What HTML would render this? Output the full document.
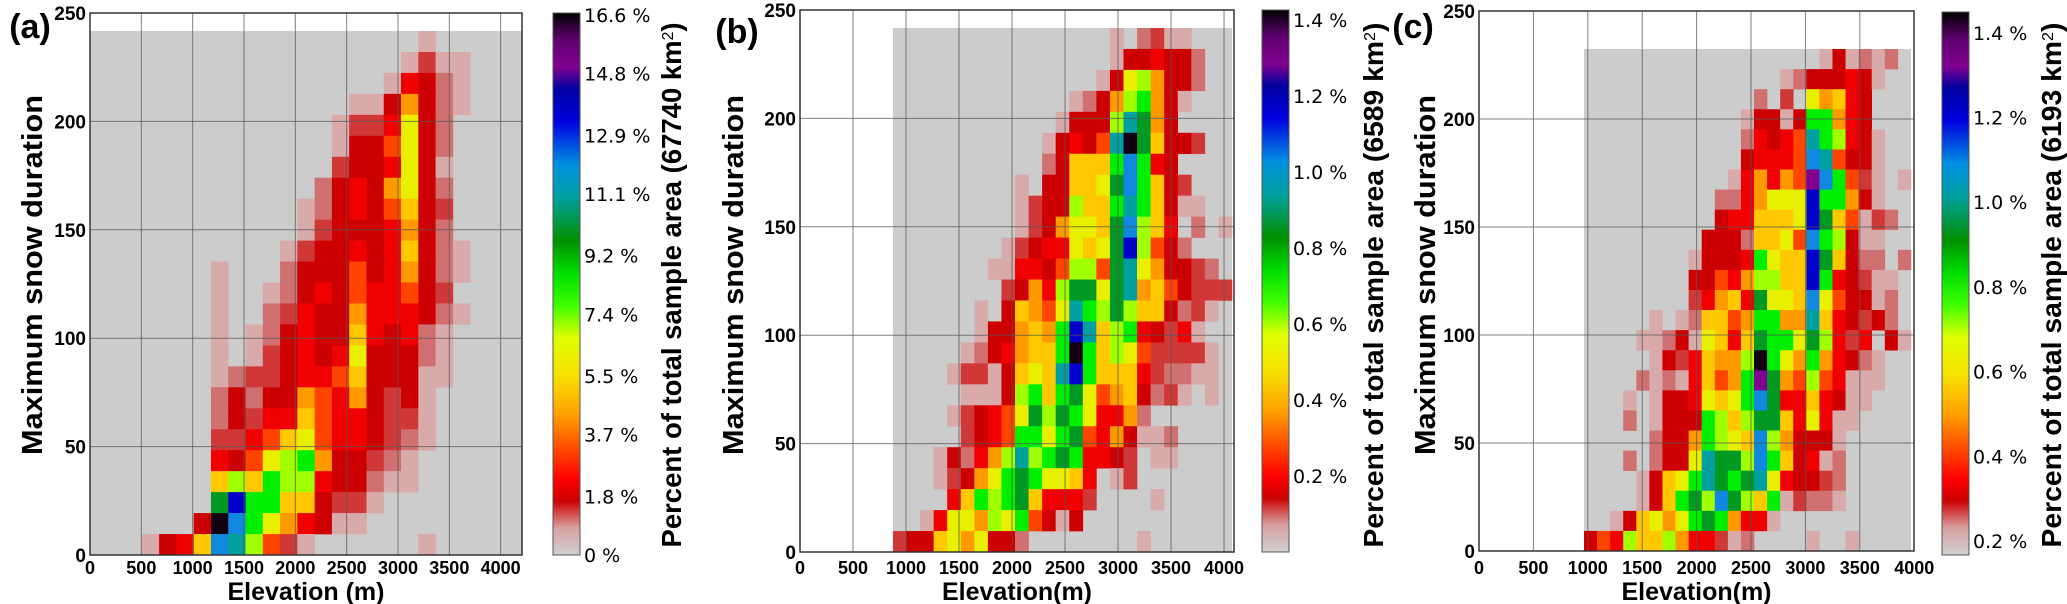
<!DOCTYPE html>
<html><head><meta charset="utf-8"><title>Snow duration vs elevation</title>
<style>html,body{margin:0;padding:0;background:#fff;}svg{display:block;}</style></head>
<body>
<svg id="fig" width="2067" height="604" viewBox="0 0 2067 604" xmlns="http://www.w3.org/2000/svg">
<defs>
<linearGradient id="cmap" x1="0" y1="1" x2="0" y2="0">
<stop offset="0" stop-color="#d0d0d0"/><stop offset="0.05" stop-color="#d8a0a0"/><stop offset="0.1" stop-color="#cc0000"/>
<stop offset="0.14" stop-color="#ff0000"/><stop offset="0.2" stop-color="#ff5000"/><stop offset="0.26" stop-color="#ffa000"/>
<stop offset="0.33" stop-color="#f8e000"/><stop offset="0.4" stop-color="#e0ff00"/><stop offset="0.46" stop-color="#40ff00"/>
<stop offset="0.52" stop-color="#00dd00"/><stop offset="0.58" stop-color="#009000"/><stop offset="0.66" stop-color="#00a0a0"/>
<stop offset="0.72" stop-color="#0090e0"/><stop offset="0.8" stop-color="#0000e0"/><stop offset="0.86" stop-color="#0000a0"/>
<stop offset="0.9" stop-color="#800090"/><stop offset="0.95" stop-color="#600070"/><stop offset="1" stop-color="#000000"/>
</linearGradient>
</defs>
</svg>
<script>
// ---- data: intensity level per cell, rows listed top (highest duration bin) to bottom ----
const startA = [19,18,17,15,14,14,14,13,12,12,11,7,7,7,7,7,7,7,7,7,7,7,7,6,3];
const valsA = [
[1],[1,3,1,1],[1,5,4,2,1],[1,1,4,7,4,2,1],[1,3,3,5,9,4,2],[1,4,4,6,9,4,2],[3,4,4,5,9,4,1],
[2,4,5,4,7,9,4,2],[1,2,4,5,4,6,8,4,3],[1,3,4,4,4,5,7,4,2],[1,3,4,4,5,4,5,8,4,2,1],
[1,0,0,0,2,4,4,4,6,4,5,7,4,2,1],[1,0,0,1,2,4,5,4,6,5,5,6,4,3],[1,0,0,2,3,5,4,4,7,5,5,5,4,2,1],
[1,0,1,2,4,5,4,4,8,5,4,5,2,1],[1,0,1,3,4,5,4,5,9,4,4,4,2,1],[1,2,3,3,4,5,5,6,8,4,4,4,1,1],
[2,4,2,4,4,7,6,5,7,4,3,4,1],[2,4,3,5,5,8,6,5,5,4,3,3,1],[3,3,5,6,8,9,6,5,5,4,3,2,1],
[5,4,6,9,10,11,7,4,4,3,2,1],[8,10,8,11,10,10,5,4,4,2,1,1],[12,15,11,11,8,8,4,3,3,1],
[4,17,14,11,9,7,5,4,1,1],[1,4,5,8,14,13,10,6,3,1,0,0,0,0,0,0,1]];
const startB = [16,16,15,13,12,11,11,9,9,9,8,7,8,6,6,5,4,5,4,5,3,3,4,2,0];
const valsB = [
[1,0,2,3,1,1],[1,4,4,5,4,4,2],[1,4,9,10,7,4,4,2],[1,2,4,7,10,11,7,4,1],[1,4,4,4,10,13,12,7,4],
[1,4,5,4,6,13,17,12,8,4,4,3],[2,4,8,8,8,11,14,11,5,4],[1,0,4,4,8,8,9,12,14,11,8,4,3],
[1,3,4,4,10,8,8,11,13,11,8,4,1,1],[1,3,4,7,9,9,8,12,14,10,8,5,0,2,0,1],[1,3,4,5,5,9,8,9,12,15,10,6,4,2],
[1,1,5,5,4,6,10,10,6,12,13,9,7,4,4,3,2],[3,4,7,5,10,12,12,9,12,13,7,8,6,4,3,3,3],
[1,0,4,8,7,6,9,13,11,10,12,10,8,8,4,2,3,1],[1,4,4,7,8,7,11,15,13,8,10,11,5,4,3,5,1],
[1,2,4,5,7,8,8,11,17,11,8,10,9,6,3,3,3,3,1],[1,3,3,1,4,8,9,8,13,15,11,8,8,8,5,3,2,2,1,1],
[1,1,1,4,10,11,8,11,12,9,6,7,8,4,2,3,1,0,1],[1,3,4,5,6,9,12,10,12,11,9,5,5,7,2],
[3,4,5,6,11,11,9,11,12,6,5,7,4,1,1,2],[1,4,2,5,7,10,13,10,11,12,11,5,5,4,3,0,1,1],
[1,3,4,7,9,11,12,11,9,9,8,5,0,1,3],[5,8,11,10,11,12,8,5,5,5,3,0,0,0,0,1],
[1,5,9,9,7,10,9,11,6,4,1,4],[3,4,4,8,9,7,9,4,4,2,0,0,0,0,0,0,0,0,1]];
const startC = [18,15,13,12,12,12,11,10,10,9,8,8,8,5,4,5,4,3,3,5,3,4,4,2,0];
const valsC = [
[1,4,1,2,1,2],[1,2,4,4,4,5,4,1],[2,0,3,0,9,7,8,5,4],[1,4,4,1,4,11,11,7,5,4],[2,5,4,5,6,13,11,10,5,4,1],
[4,5,5,5,6,14,13,6,4,4,1],[1,5,7,5,7,6,16,14,11,6,3,1,0,1],[2,2,5,7,9,9,9,15,11,11,7,4,1],
[4,5,5,8,8,8,9,15,12,8,6,1,3,2],[4,4,4,2,8,8,9,6,14,11,10,4,1,1],[1,4,4,4,5,11,9,8,8,15,12,8,4,2,2,0,2],
[4,4,6,5,7,10,10,8,8,15,11,5,4,3,1,1],[3,5,7,8,5,12,9,9,8,14,9,6,4,4,1,2],
[1,0,1,2,8,8,6,7,11,11,7,7,13,8,5,4,3,4,2],[1,1,2,4,1,9,8,5,8,12,11,11,9,12,10,5,3,5,0,4,1],
[1,4,3,5,8,7,7,10,17,11,9,7,11,7,5,4,2,1],[2,1,2,1,5,8,6,7,11,16,12,7,6,10,6,5,1,1,1],
[1,0,1,4,4,5,9,8,9,11,14,12,5,5,8,5,4,1,1],[2,0,1,4,4,4,11,10,8,10,12,12,8,5,9,5,1,1],
[2,4,4,7,11,10,9,8,14,10,7,4,4,4,1],[2,0,2,4,4,9,13,12,12,10,14,11,8,4,5,1,2],
[1,4,8,9,11,13,12,11,12,13,9,5,4,4,3,2],[1,4,8,11,12,10,14,12,10,8,11,1,3,2,2,1],
[1,4,8,9,7,9,11,12,11,7,5,5,1],[4,6,5,10,8,8,10,7,5,5,3,1,2,0,0,0,0,1,0,0,1]];
const xTicks = [0,500,1000,1500,2000,2500,3000,3500,4000];
const yTicks = [0,50,100,150,200,250];
const cbTicksA = [0,1.8,3.7,5.5,7.4,9.2,11.1,12.9,14.8,16.6];
const cbTicksB = [0.2,0.4,0.6,0.8,1.0,1.2,1.4];
const cbTicksC = [0.2,0.4,0.6,0.8,1.0,1.2,1.4];

const levelColors = ['none','#d8aaaa','#d07070','#d03838','#cc0000','#f00000','#ff4400','#ff9900','#ffc800','#e8f000','#a0ff00','#00ee00','#009922','#00a0a0','#1088e0','#0000c8','#800090','#120012'];
const NS='http://www.w3.org/2000/svg';
const svg=document.getElementById('fig');
function mk(tag,attrs,parent){const e=document.createElementNS(NS,tag);for(const k in attrs)e.setAttribute(k,attrs[k]);(parent||svg).appendChild(e);return e;}

const panels=[
 {id:'a',L:90,R:522,T:13,B:555,xmax:4208,gx0:0,gx1:4208,gy1:241.7,starts:startA,vals:valsA,
  cb:{x:553,T:13,B:555,vmin:0,vmax:16.66,ticks:cbTicksA,fmt:v=>v+' %'},cbTitle:'Percent of total sample area (67740 km',cbTx:670,
  ytx:32,xtitle:'Elevation (m)',lab:'(a)',labx:30,laby:38},
 {id:'b',L:800,R:1234,T:10,B:552,xmax:4094,gx0:877,gx1:4075,gy1:241.7,starts:startB,vals:valsB,
  cb:{x:1262,T:10,B:552,vmin:0,vmax:1.426,ticks:cbTicksB,fmt:v=>v.toFixed(1)+' %'},cbTitle:'Percent of total sample area  (6589 km',cbTx:1372,
  ytx:733,xtitle:'Elevation(m)',lab:'(b)',labx:737,laby:43},
 {id:'c',L:1479,R:1914,T:11,B:551,xmax:3998,gx0:965,gx1:3970,gy1:232.4,starts:startC,vals:valsC,
  cb:{x:1942,T:12,B:555,vmin:0.167,vmax:1.449,ticks:cbTicksC,fmt:v=>v.toFixed(1)+' %'},cbTitle:'Percent of total sample area  (6193 km',cbTx:2050,
  ytx:1425,xtitle:'Elevation(m)',lab:'(c)',labx:1413,laby:38}
];

panels.forEach(p=>{
  const g=mk('g',{});
  
  
  const xs=v=>p.L+(v/p.xmax)*(p.R-p.L);
  const ys=v=>p.B-(v/250)*(p.B-p.T);
  const bg=mk('rect',{x:xs(p.gx0),y:ys(p.gy1),width:xs(p.gx1)-xs(p.gx0),height:ys(0)-ys(p.gy1),fill:'#cccccc'},g);
  
  
  const nr=p.vals.length, nc=25;
  const cw=(p.gx1-p.gx0)/nc, rh=p.gy1/nr;
  p.vals.forEach((row,i)=>{
    const r=nr-1-i;
    row.forEach((v,k)=>{
      if(!v) return;
      const c=p.starts[i]+k;
      const x0=xs(p.gx0+c*cw), x1=xs(p.gx0+(c+1)*cw);
      const y0=ys((r+1)*rh), y1=ys(r*rh);
      const cell=mk('rect',{x:x0,y:y0,width:x1-x0+0.3,height:y1-y0+0.3,fill:levelColors[Math.min(v,17)]},g);
      
      
    });
  });
  xTicks.forEach(t=>{
    if(t>0 && t<p.xmax){const l=mk('line',{x1:xs(t),x2:xs(t),y1:p.T,y2:p.B,stroke:'#555',"stroke-width":1,"stroke-opacity":0.75},g);
    
    }
    const tx=mk('text',{x:xs(t),y:574,"text-anchor":"middle","font-family":"Liberation Sans, sans-serif","font-weight":"bold","font-size":"18"},g);
    tx.textContent=t;
    
    
  });
  yTicks.forEach(t=>{
    if(t>0 && t<250){const l=mk('line',{x1:p.L,x2:p.R,y1:ys(t),y2:ys(t),stroke:'#555',"stroke-width":1,"stroke-opacity":0.75},g);
    
    }
    const tx=mk('text',{x:p.L-4,y:ys(t)+7,"text-anchor":"end","font-family":"Liberation Sans, sans-serif","font-weight":"bold","font-size":"19"},g);
    tx.textContent=t;
    
    
  });
  const box=mk('rect',{x:p.L,y:p.T,width:p.R-p.L,height:p.B-p.T,fill:'none',stroke:'#333',"stroke-width":1.5},g);
  
  
  const xt=mk('text',{x:(p.L+p.R)/2,y:600,"text-anchor":"middle","font-family":"Liberation Sans, sans-serif","font-weight":"bold","font-size":"25"},g);
  xt.textContent=p.xtitle;
  
  
  const yt=mk('text',{x:0,y:0,transform:`translate(${p.ytx+10},275) rotate(-90)`,"text-anchor":"middle","font-family":"Liberation Sans, sans-serif","font-weight":"bold","font-size":"29",textLength:"360",lengthAdjust:"spacingAndGlyphs"},g);
  yt.textContent='Maximum snow duration';
  
  
  const lb=mk('text',{x:p.labx,y:p.laby,"text-anchor":"middle","font-family":"Liberation Sans, sans-serif","font-weight":"bold","font-size":"34"},g);
  lb.textContent=p.lab;
  
  
  // colorbar
  const cb=p.cb;
  const cbar=mk('rect',{x:cb.x,y:cb.T,width:27,height:cb.B-cb.T,fill:'url(#cmap)',stroke:'#555',"stroke-width":1},g);
  
  
  const cys=v=>cb.B-((v-cb.vmin)/(cb.vmax-cb.vmin))*(cb.B-cb.T);
  cb.ticks.forEach(t=>{
    const tx=mk('text',{x:cb.x+31,y:cys(t)+7,"font-family":"DejaVu Sans, sans-serif","font-size":"19"},g);
    tx.textContent=cb.fmt(t);
    
    
  });
  const ct=mk('text',{x:0,y:0,transform:`translate(${p.cbTx+11},285) rotate(-90)`,"text-anchor":"middle","font-family":"Liberation Sans, sans-serif","font-weight":"bold","font-size":"28",textLength:"525",lengthAdjust:"spacingAndGlyphs"},g);
  ct.textContent=p.cbTitle;
  const sup=mk('tspan',{"baseline-shift":"super","font-size":"16","font-weight":"normal"},ct);
  sup.textContent='2';
  const cl=mk('tspan',{},ct);
  cl.textContent=')';
  
  
});
</script>
</body></html>
